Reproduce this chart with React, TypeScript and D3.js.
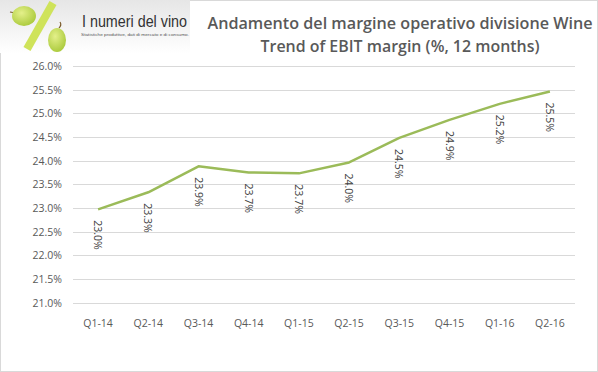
import React from "react";
import * as d3 from "d3";

const categories = ["Q1-14", "Q2-14", "Q3-14", "Q4-14", "Q1-15", "Q2-15", "Q3-15", "Q4-15", "Q1-16", "Q2-16"];
const values = [22.97, 23.33, 23.88, 23.75, 23.73, 23.96, 24.48, 24.86, 25.2, 25.46];
const labels = ["23.0%", "23.3%", "23.9%", "23.7%", "23.7%", "24.0%", "24.5%", "24.9%", "25.2%", "25.5%"];
const yTicks = [21.0, 21.5, 22.0, 22.5, 23.0, 23.5, 24.0, 24.5, 25.0, 25.5, 26.0];
const titleLines = ["Andamento del margine operativo divisione Wine", "Trend of EBIT margin (%, 12 months)"];
const titleWidths = [385, 279];

const W = 598, H = 372;
const font = "'Open Sans', 'Liberation Sans', sans-serif";

export default function App() {
  const x = d3.scaleBand<string>().domain(categories).range([73, 575]);
  const y = d3.scaleLinear().domain([21, 26]).range([302.5, 66]);
  const line = d3.line<number>()
    .x((_, i) => (x(categories[i]) as number) + x.bandwidth() / 2)
    .y((d) => y(d));

  return (
    <svg width={W} height={H} style={{ position: "absolute", left: 0, top: 0, background: "#fff" }}>
      <defs>
        <linearGradient id="logoBg" x1="0" y1="0" x2="0" y2="1">
          <stop offset="0" stopColor="#e6e6e6" />
          <stop offset="1" stopColor="#ffffff" />
        </linearGradient>
        <radialGradient id="grape" cx="0.4" cy="0.35" r="0.7">
          <stop offset="0" stopColor="#e4f08a" />
          <stop offset="1" stopColor="#a9c93a" />
        </radialGradient>
      </defs>
      <rect x={0.5} y={0.5} width={W - 1} height={H - 1} fill="#fff" stroke="#d9d9d9" />
      {/* logo */}
      <rect x={0} y={0} width={190} height={53} fill="url(#logoBg)" />
      <path d="M10,12 L16,13" stroke="#7a5a2a" strokeWidth={1.2} />
      <ellipse cx={24} cy={16} rx={12} ry={10} fill="url(#grape)" />
      <line x1={53} y1={3} x2={27} y2={49} stroke="#cfe35a" strokeWidth={8} strokeLinecap="butt" />
      <path d="M60,22 Q62,25 59,28" stroke="#7a5a2a" strokeWidth={1.2} fill="none" />
      <ellipse cx={57} cy={40} rx={9} ry={12} fill="url(#grape)" />
      <text x={82} y={27} fontFamily="'Liberation Sans', Arial, sans-serif" fontSize={16} fill="#333" textLength={105} lengthAdjust="spacingAndGlyphs">I numeri del vino</text>
      <text x={81} y={35.5} fontFamily="'Liberation Sans', Arial, sans-serif" fontSize={4.2} fill="#555" textLength={108} lengthAdjust="spacingAndGlyphs">Statistiche produttive, dati di mercato e di consumo.</text>
      {/* title */}
      {titleLines.map((t, i) => (
        <text key={i} x={400} y={28.5 + i * 23.5} textAnchor="middle" fontFamily="'Open Sans', sans-serif" fontWeight={600} fontSize={15.5} fill="#595959" textLength={titleWidths[i]} lengthAdjust="spacingAndGlyphs">{t}</text>
      ))}
      {/* grid */}
      {yTicks.map((t) => (
        <g key={t}>
          <line x1={73} x2={575} y1={Math.round(y(t)) + 0.5} y2={Math.round(y(t)) + 0.5} stroke="#d9d9d9" />
          <text x={62} y={y(t) + 4} textAnchor="end" fontFamily={font} fontSize={10.5} fill="#595959">{t.toFixed(1)}%</text>
        </g>
      ))}
      {categories.map((c) => (
        <text key={c} x={(x(c) as number) + x.bandwidth() / 2} y={327} textAnchor="middle" fontFamily={font} fontSize={10.5} fill="#595959">{c}</text>
      ))}
      <path d={line(values) || ""} fill="none" stroke="#9bbb59" strokeWidth={2.5} strokeLinejoin="round" />
      {values.map((v, i) => {
        const cx = (x(categories[i]) as number) + x.bandwidth() / 2;
        const cy = y(v) + 11;
        return (
          <text key={i} transform={`translate(${cx - 4},${cy}) rotate(90)`} fontFamily={font} fontSize={10.5} fill="#404040">{labels[i]}</text>
        );
      })}
    </svg>
  );
}
